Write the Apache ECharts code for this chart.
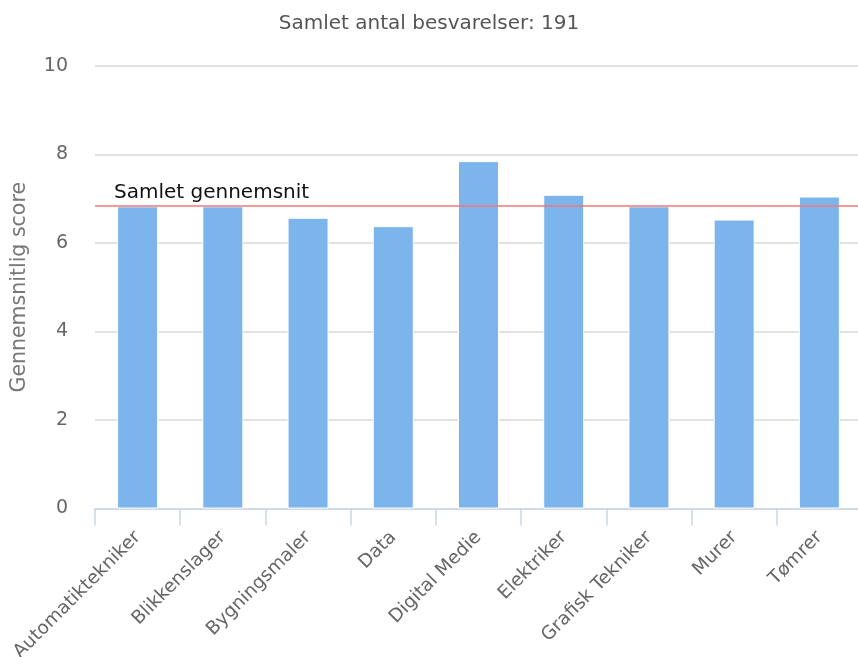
<!DOCTYPE html>
<html><head><meta charset="utf-8">
<script src="https://cdn.jsdelivr.net/npm/echarts@6/dist/echarts.min.js"></script>
<style>html,body{margin:0;padding:0;background:#fff}#c{width:858px;height:657px}</style>
</head><body><div id="c"></div>
<script>
const categories = ["Automatiktekniker","Blikkenslager","Bygningsmaler","Data","Digital Medie","Elektriker","Grafisk Tekniker","Murer","Tømrer"];
const scores = [6.83, 6.83, 6.57, 6.38, 7.85, 7.09, 6.83, 6.53, 7.05];
const overallAverage = 6.84;
const yTicks = [0, 2, 4, 6, 8, 10];
const titleText = "Samlet antal besvarelser: 191";
const avgLabel = "Samlet gennemsnit";
const yName = "Gennemsnitlig score";

const chart = echarts.init(document.getElementById('c'));
const F = "DejaVu Sans";
chart.setOption({
  animation: false,
  title: {text: titleText, left: 'center', top: 9, textStyle: {fontFamily: F, fontSize: 20, fontWeight: 'normal', color: '#555'}},
  grid: {left: 95, right: -4, top: 66, bottom: 148.5, containLabel: false, outerBoundsMode: 'none'},
  xAxis: {
    type: 'category', data: categories,
    axisLine: {lineStyle: {color: '#ccd6eb', width: 1.5}},
    axisTick: {show: true, length: 17, alignWithLabel: false, lineStyle: {color: '#ccd6eb', width: 1.5}},
    axisLabel: {rotate: 45, interval: 0, fontFamily: F, fontSize: 18.5, color: '#666', margin: 26}
  },
  yAxis: {
    type: 'value', min: yTicks[0], max: yTicks[yTicks.length-1], interval: 2,
    name: yName, nameLocation: 'middle', nameGap: 65,
    nameTextStyle: {fontFamily: F, fontSize: 20.5, color: '#777'},
    axisLine: {show: false}, axisTick: {show: false},
    axisLabel: {fontFamily: F, fontSize: 19, color: '#666', margin: 27},
    splitLine: {lineStyle: {color: '#d8d8d8', width: 1.5}}
  },
  series: [{
    type: 'bar', data: scores, barWidth: 41,
    itemStyle: {color: '#7cb5ec', borderColor: '#fff', borderWidth: 1},
    markLine: {
      silent: true, symbol: ['none','none'],
      lineStyle: {color: '#f07878', width: 1.5, type: 'solid'},
      label: {show: true, position: 'insideStartTop', formatter: avgLabel, fontFamily: F, fontSize: 20, color: '#111', distance: [19, 3]},
      data: [{yAxis: overallAverage}]
    }
  }]
});
</script></body></html>
